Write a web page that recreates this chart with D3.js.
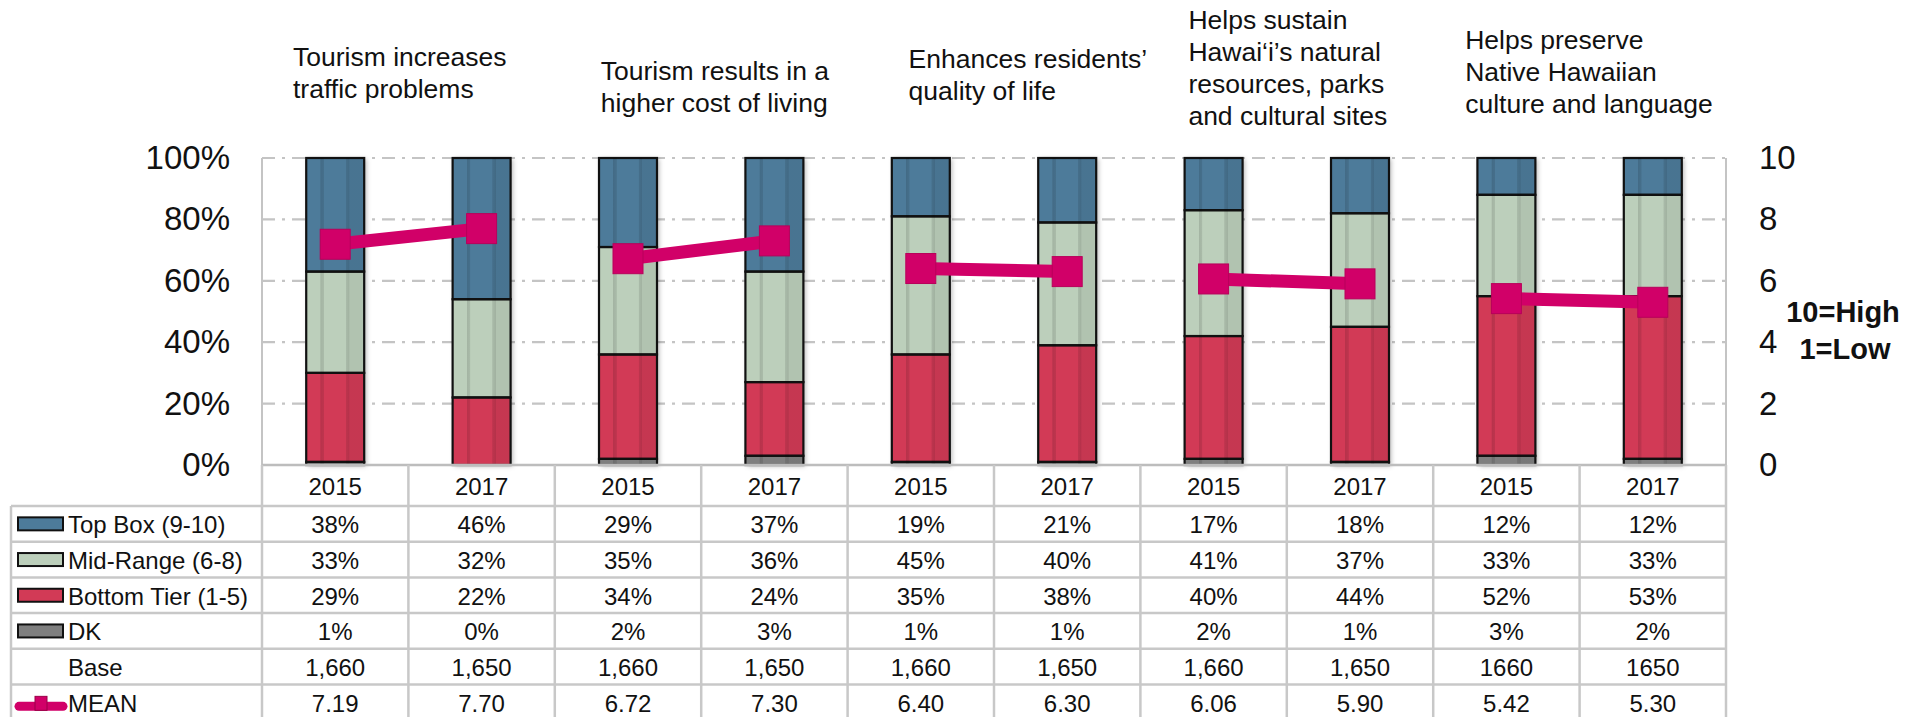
<!DOCTYPE html>
<html>
<head>
<meta charset="utf-8">
<script src="https://cdn.jsdelivr.net/npm/d3@7"></script>
<style>
  body { margin: 0; background: #fff; }
  svg text { font-family: "Liberation Sans", Arial, sans-serif; fill: #111; }
</style>
</head>
<body>
<div id="chart"></div>
<script>
// Data
const groupTitles = [
  ["Tourism increases", "traffic problems"],
  ["Tourism results in a", "higher cost of living"],
  ["Enhances residents\u2019", "quality of life"],
  ["Helps sustain", "Hawai\u2018i\u2019s natural", "resources, parks", "and cultural sites"],
  ["Helps preserve", "Native Hawaiian", "culture and language"]
];
const years = ["2015", "2017"];
const topBox = [38, 46, 29, 37, 19, 21, 17, 18, 12, 12];
const midRange = [33, 32, 35, 36, 45, 40, 41, 37, 33, 33];
const bottomTier = [29, 22, 34, 24, 35, 38, 40, 44, 52, 53];
const dontKnow = [1, 0, 2, 3, 1, 1, 2, 1, 3, 2];
const baseN = ["1,660", "1,650", "1,660", "1,650", "1,660", "1,650", "1,660", "1,650", "1660", "1650"];
const meanScore = [7.19, 7.70, 6.72, 7.30, 6.40, 6.30, 6.06, 5.90, 5.42, 5.30];
const rowLabels = ["Top Box (9-10)", "Mid-Range (6-8)", "Bottom Tier (1-5)", "DK", "Base", "MEAN"];

const width = 1918, height = 717;
const margin = { left: 262, right: 192, top: 158 };
const plotBottom = 465;
const colors = { top: "#4d7b9a", mid: "#bccfbb", bottom: "#d23a56", dk: "#7f7f7f", mean: "#d10068" };

const svg = d3.select("#chart").append("svg")
  .attr("width", width).attr("height", height);

const defs = svg.append("defs");
const shade = defs.append("linearGradient").attr("id", "shade");
[[0, 0], [0.24, 0], [0.25, 0.13], [0.30, 0.1], [0.31, 0], [0.68, 0], [0.69, 0.1], [0.74, 0.14], [0.75, 0.06], [1, 0.06]]
  .forEach(s => shade.append("stop").attr("offset", s[0]).attr("stop-color", "#000").attr("stop-opacity", s[1]));
const shadow = defs.append("filter").attr("id", "shadow").attr("x", "-30%").attr("y", "-10%").attr("width", "160%").attr("height", "120%");
shadow.append("feDropShadow").attr("dx", 2).attr("dy", 1).attr("stdDeviation", 2.5)
  .attr("flood-color", "#000").attr("flood-opacity", 0.3);

// columns: one per group/year
const cols = [];
groupTitles.forEach((g, gi) => years.forEach((yr, yi) => {
  const i = gi * 2 + yi;
  cols.push({ key: gi + "-" + yr, group: gi, year: yr, i: i,
    dk: dontKnow[i] / 100, bottom: bottomTier[i] / 100, mid: midRange[i] / 100, top: topBox[i] / 100,
    mean: meanScore[i] });
}));

const x = d3.scaleBand().domain(cols.map(d => d.key)).range([margin.left, width - margin.right]);
const y = d3.scaleLinear().domain([0, 1]).range([plotBottom, margin.top]);
const yR = d3.scaleLinear().domain([0, 10]).range([plotBottom, margin.top]);
const barW = x.bandwidth() * 0.396;

// gridlines
svg.append("g").selectAll("line")
  .data([0.2, 0.4, 0.6, 0.8, 1])
  .enter().append("line")
  .attr("x1", margin.left).attr("x2", width - margin.right)
  .attr("y1", d => y(d)).attr("y2", d => y(d))
  .attr("stroke", "#c4c4c4").attr("stroke-width", 2.2)
  .attr("stroke-dasharray", "13,7,3,7");

// plot side borders
svg.append("g").selectAll("line")
  .data([margin.left, width - margin.right])
  .enter().append("line")
  .attr("x1", d => d).attr("x2", d => d)
  .attr("y1", margin.top).attr("y2", plotBottom)
  .attr("stroke", "#c4c4c4").attr("stroke-width", 2);

// left axis
const leftAxis = svg.append("g")
  .attr("transform", `translate(${margin.left},0)`)
  .call(d3.axisLeft(y).tickValues([0, 0.2, 0.4, 0.6, 0.8, 1]).tickFormat(d3.format(".0%")).tickSize(0).tickPadding(32));
leftAxis.select(".domain").remove();
leftAxis.selectAll("text").style("font-size", "33px").attr("fill", "#1a1a1a");

// right axis
const rightAxis = svg.append("g")
  .attr("transform", `translate(${width - margin.right},0)`)
  .call(d3.axisRight(yR).tickValues([0, 2, 4, 6, 8, 10]).tickSize(0).tickPadding(33));
rightAxis.select(".domain").remove();
rightAxis.selectAll("text").style("font-size", "33px").attr("fill", "#1a1a1a");

svg.append("text").attr("x", 1843).attr("y", 322).attr("text-anchor", "middle")
  .style("font-size", "29px").style("font-weight", "bold").text("10=High");
svg.append("text").attr("x", 1845).attr("y", 359).attr("text-anchor", "middle")
  .style("font-size", "29px").style("font-weight", "bold").text("1=Low");

// stacked bars
const keys = ["dk", "bottom", "mid", "top"];
const stacked = d3.stack().keys(keys)(cols);
const barX = d => x(d.key) + (x.bandwidth() - barW) / 2;

svg.append("g").selectAll("rect")
  .data(cols).enter().append("rect")
  .attr("x", barX).attr("width", barW)
  .attr("y", y(1)).attr("height", y(0) - y(1))
  .attr("fill", "#fff").attr("filter", "url(#shadow)");

const segG = svg.append("g");
stacked.forEach(layer => {
  segG.selectAll(null)
    .data(layer).enter().append("rect")
    .attr("x", d => barX(d.data)).attr("width", barW)
    .attr("y", d => y(Math.min(d[1], 1)))
    .attr("height", d => y(Math.min(d[0], 1)) - y(Math.min(d[1], 1)))
    .attr("fill", colors[layer.key]);
});
svg.append("g").selectAll("rect")
  .data(cols).enter().append("rect")
  .attr("x", barX).attr("width", barW)
  .attr("y", y(1)).attr("height", y(0) - y(1))
  .attr("fill", "url(#shade)");
stacked.forEach(layer => {
  segG.append("g").selectAll("rect")
    .data(layer.filter(d => d[1] > d[0])).enter().append("rect")
    .attr("x", d => barX(d.data)).attr("width", barW)
    .attr("y", d => y(Math.min(d[1], 1)))
    .attr("height", d => y(Math.min(d[0], 1)) - y(Math.min(d[1], 1)))
    .attr("fill", "none").attr("stroke", "#111").attr("stroke-width", 2.2);
});

// mean lines, one per group
const meanG = svg.append("g");
const line = d3.line().x(d => x(d.key) + x.bandwidth() / 2).y(d => yR(d.mean));
groupTitles.forEach((g, gi) => {
  meanG.append("path")
    .datum(cols.filter(c => c.group === gi))
    .attr("d", line)
    .attr("fill", "none").attr("stroke", colors.mean).attr("stroke-width", 13);
});
meanG.selectAll("rect")
  .data(cols).enter().append("rect")
  .attr("x", d => x(d.key) + x.bandwidth() / 2 - 15)
  .attr("y", d => yR(d.mean) - 15)
  .attr("width", 30).attr("height", 30)
  .attr("fill", colors.mean).attr("stroke", "#b8005a").attr("stroke-width", 1);

// group titles
const titleX = [31, 46, 61, 48, 32];
const titleY = [66, 80, 68, 29, 49];
groupTitles.forEach((lines, gi) => {
  const gx = x(gi + "-2015");
  const t = svg.append("text")
    .attr("x", gx + titleX[gi]).attr("y", titleY[gi])
    .style("font-size", "26.5px");
  lines.forEach((ln, li) => {
    t.append("tspan").attr("x", gx + titleX[gi]).attr("dy", li === 0 ? 0 : 32).text(ln);
  });
});

// data table
const tableLeft = 11, tableTop = 506, rowH = 35.7;
const right = width - margin.right;
const table = svg.append("g");
const lineColor = "#c8c8c8";

// axis line / header top
table.append("line").attr("x1", margin.left).attr("x2", right)
  .attr("y1", plotBottom).attr("y2", plotBottom)
  .attr("stroke", "#bdbdbd").attr("stroke-width", 2.5);

// horizontal rules
table.selectAll(".hr")
  .data(d3.range(rowLabels.length + 1))
  .enter().append("line")
  .attr("x1", tableLeft).attr("x2", right)
  .attr("y1", d => tableTop + d * rowH).attr("y2", d => tableTop + d * rowH)
  .attr("stroke", lineColor).attr("stroke-width", 2.5);

// vertical rules
const edges = cols.map(c => x(c.key)).concat([right]);
table.selectAll(".vr")
  .data(edges).enter().append("line")
  .attr("x1", d => d).attr("x2", d => d)
  .attr("y1", plotBottom).attr("y2", height)
  .attr("stroke", lineColor).attr("stroke-width", 2.5);
table.append("line")
  .attr("x1", tableLeft).attr("x2", tableLeft)
  .attr("y1", tableTop).attr("y2", height)
  .attr("stroke", lineColor).attr("stroke-width", 2.5);

// header years
table.selectAll(".yr")
  .data(cols).enter().append("text")
  .attr("x", d => x(d.key) + x.bandwidth() / 2)
  .attr("y", (plotBottom + tableTop) / 2 + 1)
  .attr("text-anchor", "middle").attr("dominant-baseline", "central")
  .style("font-size", "24px").text(d => d.year);

// row values
const pct = v => v + "%";
const rowValues = [topBox.map(pct), midRange.map(pct), bottomTier.map(pct), dontKnow.map(pct),
  baseN, meanScore.map(d3.format(".2f"))];
rowValues.forEach((vals, ri) => {
  table.append("g").selectAll("text")
    .data(vals).enter().append("text")
    .attr("x", (d, i) => x(cols[i].key) + x.bandwidth() / 2)
    .attr("y", tableTop + ri * rowH + rowH / 2 + 1)
    .attr("text-anchor", "middle").attr("dominant-baseline", "central")
    .style("font-size", "24px").text(d => d);
});

// row labels with legend keys
const swatchColors = [colors.top, colors.mid, colors.bottom, colors.dk];
rowLabels.forEach((lab, ri) => {
  const cy = tableTop + ri * rowH + rowH / 2;
  if (ri < 4) {
    table.append("rect").attr("x", 18).attr("y", cy - 6.5).attr("width", 45).attr("height", 13)
      .attr("fill", swatchColors[ri]).attr("stroke", "#111").attr("stroke-width", 2);
  } else if (lab === "MEAN") {
    table.append("line").attr("x1", 19).attr("x2", 63).attr("y1", cy + 4).attr("y2", cy + 4)
      .attr("stroke", colors.mean).attr("stroke-width", 9).attr("stroke-linecap", "round");
    table.append("rect").attr("x", 35).attr("y", cy - 6).attr("width", 12).attr("height", 14)
      .attr("fill", colors.mean).attr("stroke", "#9a0048").attr("stroke-width", 1);
  }
  table.append("text").attr("x", 68).attr("y", cy + 1)
    .attr("dominant-baseline", "central")
    .style("font-size", "24px").text(lab);
});
</script>
</body>
</html>
